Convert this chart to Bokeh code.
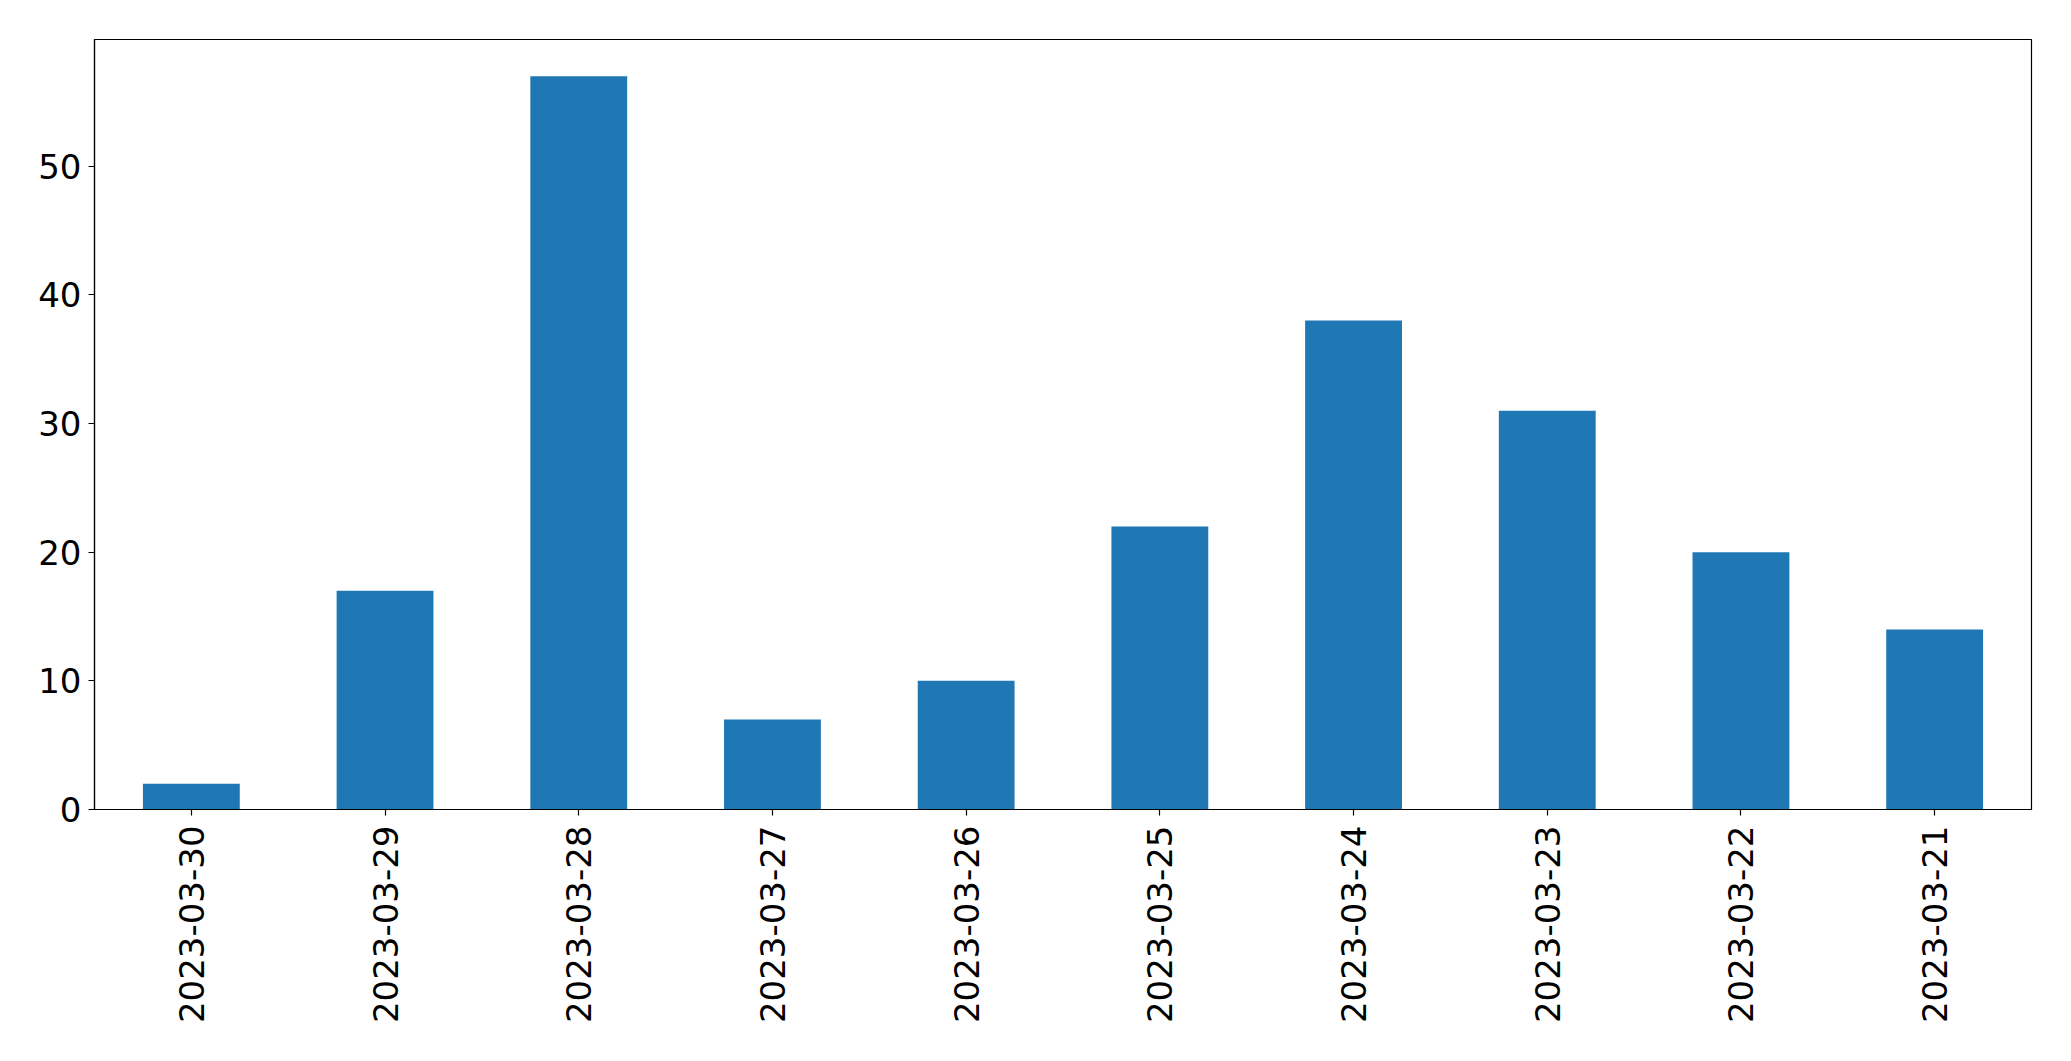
from bokeh.plotting import figure
from bokeh.models import FactorRange, Range1d, SingleIntervalTicker, ColumnDataSource
from bokeh.embed import file_html
from bokeh.resources import INLINE

dates = ["2023-03-30", "2023-03-29", "2023-03-28", "2023-03-27", "2023-03-26",
         "2023-03-25", "2023-03-24", "2023-03-23", "2023-03-22", "2023-03-21"]
counts = [2, 17, 57, 7, 10, 22, 38, 31, 20, 14]

src = ColumnDataSource(data=dict(x=dates, y=counts))

p = figure(x_range=FactorRange(factors=dates, range_padding=0),
           y_range=Range1d(0, max(counts) * 1.05),
           width=2063, height=1053, output_backend="svg", toolbar_location=None,
           min_border_left=94, min_border_right=32, min_border_top=39, min_border_bottom=244)

p.vbar(x="x", top="y", width=0.5, source=src, fill_color="#1f77b4", line_color=None)

p.xgrid.visible = False
p.ygrid.visible = False
p.outline_line_color = "black"
p.outline_line_alpha = 1
p.outline_line_width = 1.2

p.yaxis.ticker = SingleIntervalTicker(interval=10)
p.yaxis.minor_tick_line_color = None

for ax in (p.xaxis[0], p.yaxis[0]):
    ax.axis_line_color = "black"
    ax.axis_line_width = 1.2
    ax.major_tick_line_color = "black"
    ax.major_tick_line_width = 1.2
    ax.major_tick_out = 6
    ax.major_tick_in = 0
    ax.major_label_text_font = "DejaVu Sans"
    ax.major_label_text_font_size = "34px"
    ax.major_label_text_color = "black"

p.xaxis.major_label_orientation = 1.5707963
p.xaxis.major_label_standoff = 10
p.yaxis.major_label_standoff = 7

open("out.html", "w").write(file_html(p, INLINE))
